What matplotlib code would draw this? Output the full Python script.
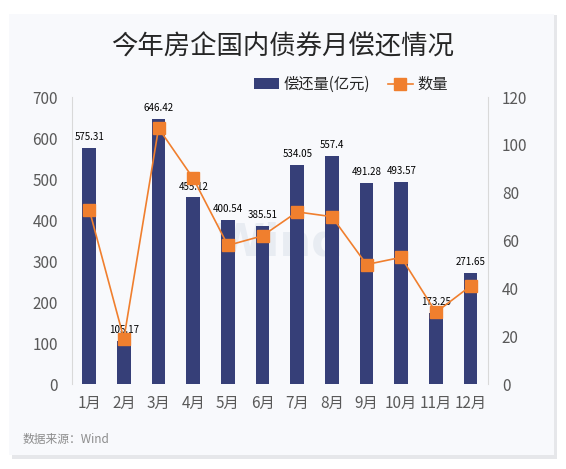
import numpy as np
import matplotlib
matplotlib.use("Agg")
import matplotlib.pyplot as plt
from matplotlib.patches import FancyBboxPatch

plt.rcParams['font.family'] = ['Noto Sans CJK SC', 'DejaVu Sans']

months = ['1月', '2月', '3月', '4月', '5月', '6月', '7月', '8月', '9月', '10月', '11月', '12月']
amount = [575.31, 105.17, 646.42, 455.12, 400.54, 385.51, 534.05, 557.4, 491.28, 493.57, 173.25, 271.65]
amount_labels = ['575.31', '105.17', '646.42', '455.12', '400.54', '385.51', '534.05', '557.4',
                 '491.28', '493.57', '173.25', '271.65']
count = [73, 19, 107, 86, 58, 62, 72, 70, 50, 53, 30, 41]

bar_color = '#363F78'
line_color = '#F07F2E'
tick_color = '#595959'

fig = plt.figure(figsize=(5.66, 4.69), dpi=100)
fig.patch.set_facecolor('white')

# card + shadow
shadow = FancyBboxPatch((0.022, 0.022), 0.962, 0.945, boxstyle='square,pad=0',
                        transform=fig.transFigure, facecolor='#E6E7EA', edgecolor='none', zorder=-3)
card = FancyBboxPatch((0.016, 0.030), 0.962, 0.940, boxstyle='square,pad=0',
                      transform=fig.transFigure, facecolor='#F8F9FC', edgecolor='none', zorder=-2)
fig.patches.extend([shadow, card])

ax = fig.add_axes([0.127, 0.181, 0.735, 0.612])
ax.set_facecolor('none')
x = np.arange(len(months))
bars = ax.bar(x, amount, width=0.4, color=bar_color, label='偿还量(亿元)', zorder=2)
ax.set_ylim(0, 700)
ax.set_yticks(range(0, 701, 100))
ax.set_xlim(-0.5, len(months) - 0.5)
ax.set_xticks(x)
ax.set_xticklabels(months)
for xi, v, s in zip(x, amount, amount_labels):
    ax.text(xi, v + 14, s, ha='center', va='bottom', fontsize=7, color='black', zorder=5)

ax2 = ax.twinx()
ax2.plot(x, count, color=line_color, marker='s', markersize=8.5, linewidth=1.2, label='数量', zorder=3)
ax2.set_ylim(0, 120)
ax2.set_yticks(range(0, 121, 20))

for a in (ax, ax2):
    for sp in a.spines.values():
        sp.set_visible(False)
    a.tick_params(length=0, labelsize=11, colors=tick_color)
ax.spines['left'].set_visible(True)
ax.spines['left'].set_color('#D9D9D9')
ax2.spines['right'].set_visible(True)
ax2.spines['right'].set_color('#D9D9D9')
ax.tick_params(axis='x', pad=8)
ax.tick_params(axis='y', pad=10)
ax2.tick_params(axis='y', pad=10)

# watermark
ax.text(5.5, 345, 'Wind', fontsize=32, color='#E8ECF2', ha='center', va='center',
        fontweight='bold', zorder=1, family='DejaVu Sans')

h1, l1 = ax.get_legend_handles_labels()
h2, l2 = ax2.get_legend_handles_labels()
fig.legend(h1 + h2, l1 + l2, loc='center', bbox_to_anchor=(0.62, 0.82), ncol=2,
           frameon=False, fontsize=11, handlelength=1.6, columnspacing=1.2, handletextpad=0.3,
           labelcolor='#262626')

fig.text(0.5, 0.9, '今年房企国内债券月偿还情况', ha='center', va='center', fontsize=19, color='#262626')
fig.text(0.04, 0.062, '数据来源：Wind', ha='left', va='center', fontsize=8.5, color='#8C8C8C')

fig.savefig('out.png', dpi=100)
